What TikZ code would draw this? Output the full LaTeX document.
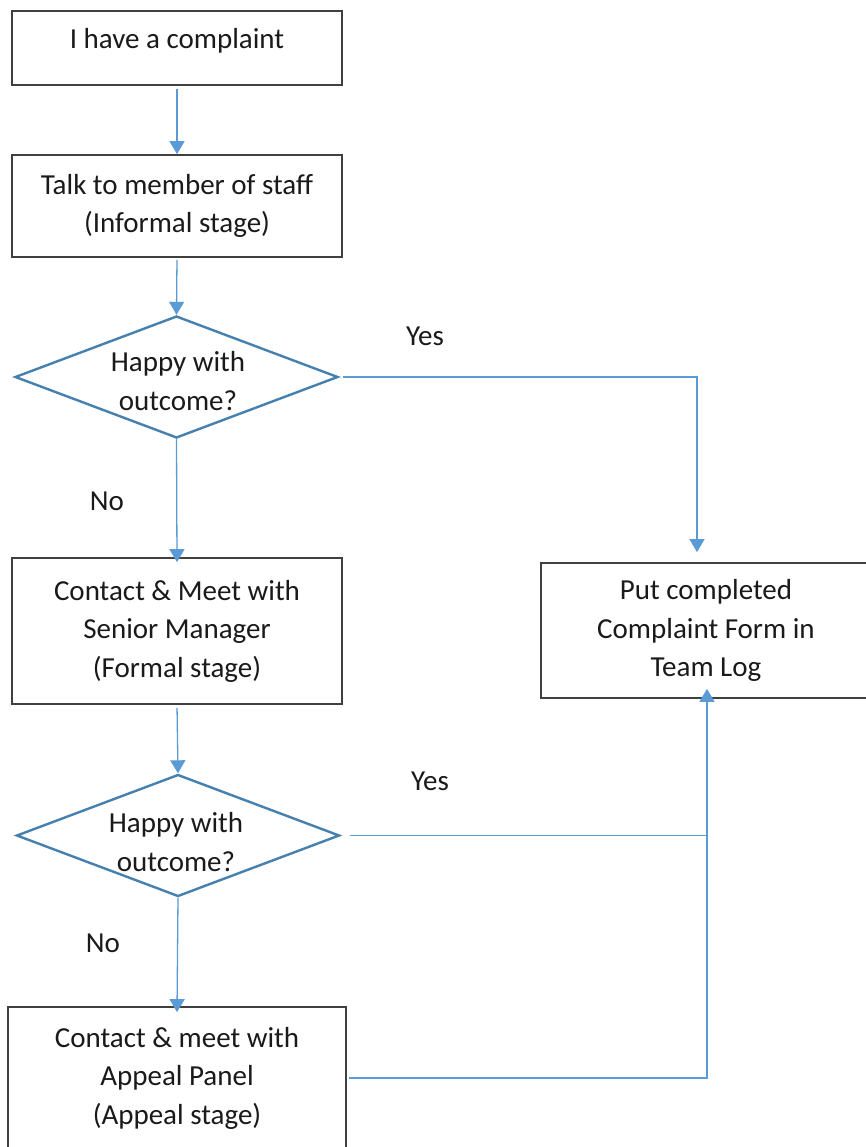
\documentclass[tikz,border=0pt]{standalone}
\usepackage{fontspec}
\setmainfont{Carlito}
\usetikzlibrary{shapes.geometric,arrows.meta,positioning,calc}
\definecolor{linkblue}{RGB}{91,155,213}
\definecolor{diamblue}{RGB}{70,128,175}
\definecolor{boxgray}{RGB}{64,64,64}
\definecolor{textgray}{RGB}{26,26,26}

\begin{document}
\begin{tikzpicture}[x=1pt,y=-1pt,
        every node/.style={font=\fontsize{29}{38.5}\selectfont, text=textgray},
        stagebox/.style={draw=boxgray, line width=1.7pt, rectangle, align=center, minimum width=330pt, inner sep=0pt},
        choice/.style={draw=diamblue, line width=2.4pt, diamond, minimum width=323pt, minimum height=122pt, inner sep=0pt},
        flow/.style={draw=linkblue, line width=1.3pt, -{Triangle[length=13pt,width=15pt]}}]
        % Page
        \fill[white] (0,0) rectangle (866,1147);
        \useasboundingbox (0,0) rectangle (866,1147);
        \clip (0,0) rectangle (866,1147);

        % Left column
        \node[stagebox, minimum height=74pt, text depth=20pt] (start) at (177,48) {I have a complaint};
        \node[stagebox, minimum height=102pt] (informal) at (177,206) {Talk to member of staff\\(Informal stage)};
        \node[choice] (ask1) at (176.5,377) {};
        \node[align=center] (ask1txt) at (178,381) {Happy with\\outcome?};
        \node[stagebox, minimum height=146pt] (formal) at (177,631) {Contact \& Meet with\\Senior Manager\\(Formal stage)};
        \node[choice] (ask2) at (178,835.5) {};
        \node[align=center] (ask2txt) at (176,842) {Happy with\\outcome?};
        \node[stagebox, minimum width=338pt, minimum height=142pt] (appeal) at (177,1078) {Contact \& meet with\\Appeal Panel\\(Appeal stage)};

        % Right column
        \node[stagebox, minimum height=135pt] (logbox) at (706,630.5) {Put completed\\Complaint Form in\\Team Log};

        % Labels
        \node (yes1) at (425,336) {Yes};
        \node (no1) at (107,501) {No};
        \node (yes2) at (430,781) {Yes};
        \node (no2) at (103,943) {No};

        % Connectors
        \draw[flow, shorten <=3pt] (start.south) -- (informal.north);
        \draw[flow, shorten <=2pt] (informal.south) -- (ask1.north);
        \draw[flow] (ask1.south) -- ([yshift=-5pt]formal.north);
        \draw[flow, shorten <=3pt] (formal.south) -- (ask2.north);
        \draw[flow] (ask2.south) -- ([yshift=-6pt]appeal.north);
        \draw[flow, shorten <=4pt, shorten >=10pt] (ask1.east) -| ([xshift=-9pt]logbox.north);
        \coordinate (up) at ([xshift=1pt,yshift=10pt]logbox.south);
        \draw[flow, shorten <=2pt] (appeal.east) -| (up);
        \draw[draw=linkblue, line width=1.3pt, shorten <=9pt] (ask2.east) -- (ask2.east -| up);
    \end{tikzpicture}
\end{document}
